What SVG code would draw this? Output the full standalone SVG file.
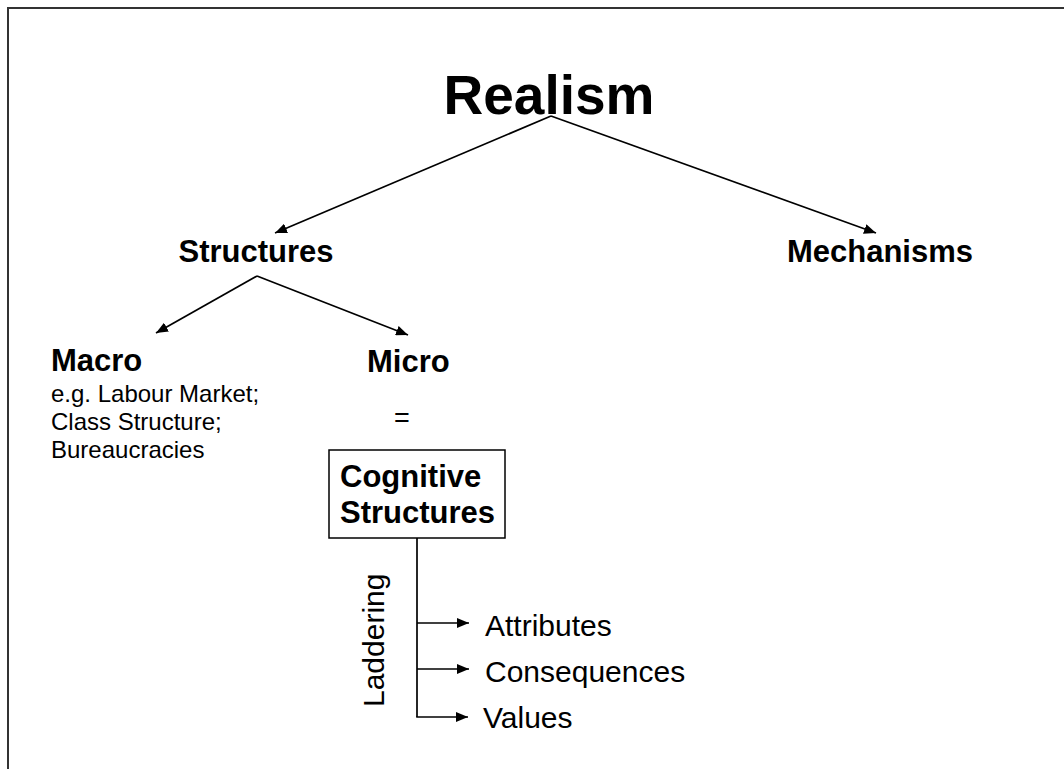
<svg xmlns="http://www.w3.org/2000/svg" width="1064" height="769" viewBox="0 0 1064 769">
<defs>
<marker id="ah" markerWidth="12" markerHeight="10" refX="12" refY="5" orient="auto" markerUnits="userSpaceOnUse">
<path d="M0,0 L12,5 L0,10 Z" fill="#000"/>
</marker>
<style>
text{font-family:"Liberation Sans",Arial,sans-serif;fill:#000}
.b{font-weight:bold}
.ln{stroke:#000;stroke-width:1.7;fill:none}
</style>
</defs>
<rect width="1064" height="769" fill="#fff"/>
<g id="frame">
<path d="M8,769 V8 H1064" stroke="#333" stroke-width="2" fill="none"/>
</g>
<g id="realism"><text class="b" x="549" y="114" font-size="55" text-anchor="middle">Realism</text></g>
<g id="structures"><text class="b" x="256" y="262" font-size="31" text-anchor="middle">Structures</text></g>
<g id="mechanisms"><text class="b" x="880" y="262" font-size="31" text-anchor="middle">Mechanisms</text></g>
<g id="macro">
<text class="b" x="51" y="371" font-size="31">Macro</text>
<text x="51" y="402" font-size="24">e.g. Labour Market;</text>
<text x="51" y="430" font-size="24">Class Structure;</text>
<text x="51" y="458" font-size="24">Bureaucracies</text>
</g>
<g id="micro">
<text class="b" x="367" y="372" font-size="31">Micro</text>
<text x="402" y="427" font-size="27" text-anchor="middle">=</text>
</g>
<g id="cognitive">
<rect x="329" y="450" width="176" height="88" fill="#fff" stroke="#000" stroke-width="1.5"/>
<text class="b" x="340" y="487" font-size="31">Cognitive</text>
<text class="b" x="340" y="523" font-size="31">Structures</text>
</g>
<g id="laddering"><text x="384" y="707" font-size="30" transform="rotate(-90 384 707)">Laddering</text></g>
<g id="attributes"><text x="485" y="636" font-size="30">Attributes</text></g>
<g id="consequences"><text x="485" y="682" font-size="30">Consequences</text></g>
<g id="values"><text x="483" y="728" font-size="30">Values</text></g>
<g id="connectors">
<line class="ln" x1="551" y1="116" x2="275" y2="233" marker-end="url(#ah)"/>
<line class="ln" x1="551" y1="116" x2="876" y2="233" marker-end="url(#ah)"/>
<line class="ln" x1="257" y1="276" x2="156" y2="333" marker-end="url(#ah)"/>
<line class="ln" x1="257" y1="276" x2="408" y2="335" marker-end="url(#ah)"/>
<path class="ln" d="M417,538 V717"/>
<line class="ln" x1="417" y1="623" x2="469" y2="623" marker-end="url(#ah)"/>
<line class="ln" x1="417" y1="669" x2="469" y2="669" marker-end="url(#ah)"/>
<line class="ln" x1="416.2" y1="717" x2="468" y2="717" marker-end="url(#ah)"/>
</g>
</svg>
